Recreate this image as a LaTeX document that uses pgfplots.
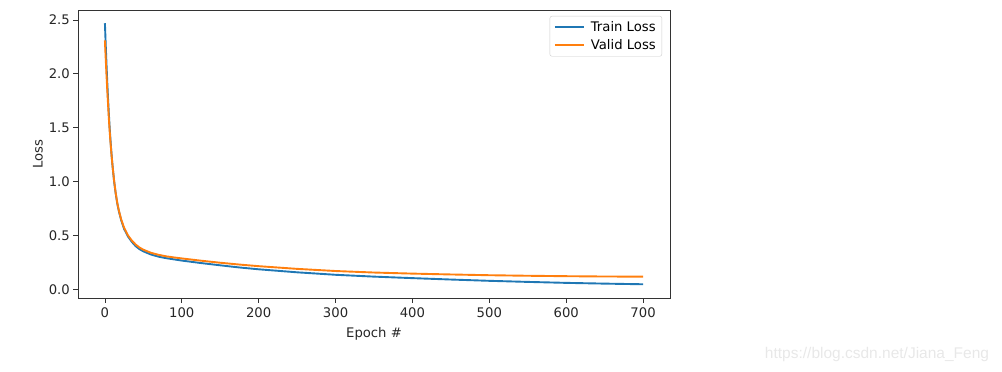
\documentclass[border=0pt]{standalone}
\usepackage{pgfplots}
\pgfplotsset{compat=1.18}
\usepackage{fontspec}
\setmainfont{DejaVu Sans}
\definecolor{mplblue}{HTML}{1F77B4}
\definecolor{mplorange}{HTML}{FF7F0E}
\begin{document}
\begin{tikzpicture}[x=1pt,y=1pt]
\path[use as bounding box] (0,0) rectangle (1002,372);
\begin{axis}[
  at={(78pt,74pt)}, anchor=south west,
  scale only axis, width=592pt, height=288pt,
  xmin=-35, xmax=735, ymin=-0.0815, ymax=2.593,
  xtick={0,100,...,700},
  ytick={0,0.5,...,2.5},
  yticklabel style={/pgf/number format/fixed,/pgf/number format/fixed zerofill,/pgf/number format/precision=1},
  /pgf/number format/assume math mode=true,
  tick label style={font=\fontsize{13.2}{15}\selectfont, text=black!85},
  label style={font=\fontsize{13.2}{15}\selectfont, text=black!85},
  xticklabel style={yshift=-1pt},
  tick align=outside, tick pos=left, major tick length=4.7pt,
  every tick/.style={black!80, line width=0.8pt},
  axis line style={black!80, line width=0.8pt},
  xlabel={Epoch \#}, ylabel={Loss},
  xlabel style={yshift=-3pt},
  ylabel style={yshift=-1pt},
  legend style={at={(1,1)}, anchor=north east, xshift=-8pt, yshift=-6pt,
    draw=black!20, rounded corners=2pt, font=\fontsize{13.2}{15}\selectfont,
    row sep=3pt, inner xsep=4pt, inner ysep=3pt},
  legend cell align=left,
  legend image code/.code={\draw[#1, line width=2pt] (0pt,0pt) -- (29pt,0pt); \path (33pt,0pt);},
]
\addplot[mplblue, line width=1.9pt] coordinates {
(0,2.47) (1,2.28) (2,2.10) (3,1.93) (4,1.78) (5,1.645) (6,1.52) (7,1.41) (8,1.31) (9,1.22) (10,1.14)
(12,1.00) (14,0.89) (16,0.80) (18,0.73) (21,0.645) (25,0.56) (30,0.49) (35,0.44) (40,0.40)
(45,0.372) (50,0.352) (60,0.322) (70,0.302) (80,0.288) (90,0.277) (100,0.266) (125,0.243)
(150,0.222) (175,0.202) (200,0.185) (250,0.157) (300,0.134) (350,0.117) (400,0.103) (450,0.09)
(500,0.078) (550,0.068) (600,0.059) (650,0.052) (700,0.046)
};
\addlegendentry{Train Loss}
\addplot[mplorange, line width=1.9pt] coordinates {
(0,2.31) (1,2.15) (2,2.00) (3,1.86) (4,1.73) (5,1.60) (6,1.49) (7,1.39) (8,1.30) (9,1.215) (10,1.14)
(12,1.005) (14,0.895) (16,0.805) (18,0.735) (21,0.652) (25,0.57) (30,0.50) (35,0.452) (40,0.415)
(45,0.387) (50,0.367) (60,0.338) (70,0.319) (80,0.305) (90,0.295) (100,0.286) (125,0.265)
(150,0.246) (175,0.229) (200,0.214) (250,0.189) (300,0.169) (350,0.155) (400,0.145) (450,0.137)
(500,0.13) (550,0.125) (600,0.121) (650,0.118) (700,0.117)
};
\addlegendentry{Valid Loss}
\end{axis}
\node[text=black!9, font=\fontsize{15.5}{17}\selectfont\fontspec{Liberation Sans}] at (877,18) {https://blog.csdn.net/Jiana\_Feng};
\end{tikzpicture}
\end{document}
